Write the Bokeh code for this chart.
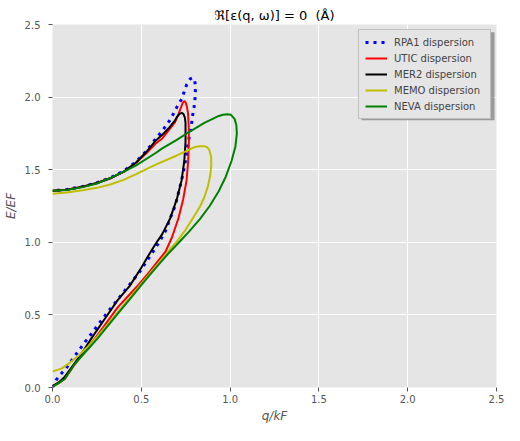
from bokeh.plotting import figure
from bokeh.models import (Range1d, SingleIntervalTicker, PrintfTickFormatter,
                          Legend, LegendItem, BoxAnnotation)
from bokeh.embed import file_html
from bokeh.resources import INLINE

# ---------------- data (q/k_F , E/E_F) ----------------
rpa1_q = [0.0, 0.02, 0.042, 0.078, 0.124, 0.175, 0.228, 0.28, 0.334, 0.389, 0.448, 0.493,
          0.53, 0.563, 0.60, 0.636, 0.663, 0.691, 0.709, 0.727, 0.742, 0.755, 0.764, 0.779,
          0.788, 0.797, 0.804, 0.805, 0.80, 0.791, 0.775, 0.755, 0.727, 0.70, 0.663, 0.618,
          0.581, 0.53, 0.471, 0.40, 0.33, 0.25, 0.17, 0.08, 0.0]
rpa1_E = [0.0, 0.05, 0.085, 0.135, 0.215, 0.30, 0.385, 0.47, 0.555, 0.64, 0.73, 0.80,
          0.87, 0.93, 1.0, 1.078, 1.166, 1.253, 1.34, 1.428, 1.516, 1.603, 1.69, 1.778,
          1.866, 1.93, 2.01, 2.08, 2.115, 2.133, 2.125, 2.085, 1.986, 1.93, 1.844, 1.767,
          1.713, 1.63, 1.555, 1.49, 1.447, 1.41, 1.385, 1.363, 1.355]

utic_q = [0.0, 0.035, 0.07, 0.12, 0.18, 0.25, 0.366, 0.43, 0.49, 0.548, 0.60, 0.636, 0.673,
          0.709, 0.736, 0.755, 0.764, 0.768, 0.767, 0.763, 0.756, 0.748, 0.740, 0.73, 0.71,
          0.69, 0.654, 0.618, 0.581, 0.53, 0.471, 0.40, 0.33, 0.25, 0.17, 0.08, 0.0]
utic_E = [0.01, 0.03, 0.06, 0.15, 0.245, 0.355, 0.55, 0.635, 0.715, 0.80, 0.88, 0.935, 1.035,
          1.166, 1.297, 1.428, 1.56, 1.70, 1.80, 1.888, 1.94, 1.968, 1.972, 1.95, 1.885,
          1.828, 1.77, 1.715, 1.68, 1.615, 1.548, 1.485, 1.443, 1.408, 1.383, 1.362, 1.355]

mer2_q = [0.0, 0.035, 0.07, 0.12, 0.165, 0.22, 0.29, 0.366, 0.435, 0.50, 0.548, 0.581, 0.618,
          0.663, 0.70, 0.727, 0.742, 0.749, 0.749, 0.745, 0.737, 0.727, 0.715, 0.70, 0.69,
          0.654, 0.618, 0.581, 0.53, 0.471, 0.40, 0.33, 0.25, 0.17, 0.08, 0.0]
mer2_E = [0.01, 0.035, 0.075, 0.16, 0.235, 0.34, 0.465, 0.60, 0.70, 0.825, 0.925, 0.99, 1.056,
          1.166, 1.297, 1.428, 1.56, 1.69, 1.822, 1.86, 1.885, 1.892, 1.885, 1.862, 1.84,
          1.785, 1.74, 1.70, 1.625, 1.55, 1.485, 1.443, 1.408, 1.383, 1.362, 1.355]

memo_q = [0.0, 0.05, 0.097, 0.143, 0.197, 0.252, 0.362, 0.43, 0.5, 0.548, 0.6, 0.654, 0.70,
          0.746, 0.80, 0.83, 0.855, 0.875, 0.888, 0.894, 0.893, 0.883, 0.87, 0.855, 0.83,
          0.80, 0.746, 0.70, 0.581, 0.471, 0.40, 0.33, 0.25, 0.17, 0.08, 0.0]
memo_E = [0.11, 0.13, 0.17, 0.215, 0.28, 0.35, 0.51, 0.61, 0.715, 0.785, 0.86, 0.94, 1.005,
          1.08, 1.185, 1.245, 1.31, 1.385, 1.46, 1.53, 1.59, 1.636, 1.655, 1.662, 1.662,
          1.656, 1.625, 1.598, 1.535, 1.47, 1.43, 1.40, 1.375, 1.358, 1.343, 1.335]

neva_q = [0.0, 0.035, 0.07, 0.124, 0.179, 0.252, 0.362, 0.43, 0.5, 0.548, 0.6, 0.654, 0.713,
          0.77, 0.83, 0.885, 0.935, 0.975, 1.008, 1.03, 1.038, 1.035, 1.025, 1.005, 0.985,
          0.96, 0.928, 0.855, 0.764, 0.70, 0.618, 0.581, 0.471, 0.40, 0.33, 0.25, 0.17, 0.08,
          0.0]
neva_E = [0.005, 0.03, 0.06, 0.16, 0.236, 0.335, 0.50, 0.60, 0.705, 0.775, 0.85, 0.925, 1.0,
          1.075, 1.16, 1.25, 1.35, 1.45, 1.56, 1.66, 1.75, 1.81, 1.85, 1.878, 1.882,
          1.878, 1.866, 1.822, 1.756, 1.705, 1.647, 1.615, 1.53, 1.485, 1.445, 1.405, 1.38,
          1.36, 1.355]

legend_labels = ["RPA1 dispersion", "UTIC dispersion", "MER2 dispersion",
                 "MEMO dispersion", "NEVA dispersion"]
title_text = "ℜ[ε(q, ω)] = 0\u00a0\u00a0(Å)"
x_label = "q/kF"
y_label = "E/EF"

FONT = "DejaVu Sans"
GRAY = "#555555"

p = figure(width=504, height=425, output_backend="svg", toolbar_location=None,
           x_range=Range1d(0, 2.5), y_range=Range1d(0, 2.5), title=title_text,
           min_border_left=52, min_border_right=8, min_border_top=24, min_border_bottom=33)

p.title.align = "center"
p.title.text_font = FONT
p.title.text_font_size = "13px"
p.title.text_font_style = "normal"
p.title.text_color = "black"
p.title.standoff = 4

p.background_fill_color = "#E5E5E5"
p.border_fill_color = "white"
p.outline_line_color = None

for ax in (p.xaxis[0], p.yaxis[0]):
    ax.ticker = SingleIntervalTicker(interval=0.5)
    ax.formatter = PrintfTickFormatter(format="%.1f")
    ax.axis_line_color = None
    ax.major_tick_line_color = GRAY
    ax.major_tick_in = 0
    ax.major_tick_out = 4
    ax.minor_tick_line_color = None
    ax.major_label_text_color = GRAY
    ax.major_label_text_font = FONT
    ax.major_label_text_font_size = "10px"
    ax.axis_label_text_font = FONT
    ax.axis_label_text_font_size = "12px"
    ax.axis_label_text_font_style = "italic"
    ax.axis_label_text_color = GRAY
p.xaxis.axis_label = x_label
p.yaxis.axis_label = y_label
p.xaxis.major_label_standoff = 3
p.yaxis.major_label_standoff = 8
p.xaxis.axis_label_standoff = 3
p.yaxis.axis_label_standoff = 4

p.grid.grid_line_color = "white"
p.grid.grid_line_width = 1

r1 = p.line(rpa1_q, rpa1_E, line_color="#0000ff", line_width=3, line_dash="3 5")
r2 = p.line(utic_q, utic_E, line_color="#ff0000", line_width=2)
r3 = p.line(mer2_q, mer2_E, line_color="#000000", line_width=2)
r4 = p.line(memo_q, memo_E, line_color="#bfbf00", line_width=2)
r5 = p.line(neva_q, neva_E, line_color="#008000", line_width=2)

# legend drop shadow (sits just below/right of the legend box)
p.add_layout(BoxAnnotation(left=1.740, right=2.489, top=2.446, bottom=1.841,
                           fill_color="#7a7a7a", fill_alpha=0.7, line_color=None))

legend = Legend(items=[LegendItem(label=lab, renderers=[r]) for lab, r in
                       zip(legend_labels, [r1, r2, r3, r4, r5])],
                location="top_right", margin=5, padding=6, spacing=4,
                glyph_width=22, glyph_height=12, label_height=12, label_width=90,
                label_standoff=7, label_text_font=FONT, label_text_font_size="10px",
                border_line_color="#9a9a9a", border_line_width=1,
                background_fill_color="#E5E5E5", background_fill_alpha=1.0)
p.add_layout(legend)

open("out.html", "w").write(file_html(p, INLINE))
